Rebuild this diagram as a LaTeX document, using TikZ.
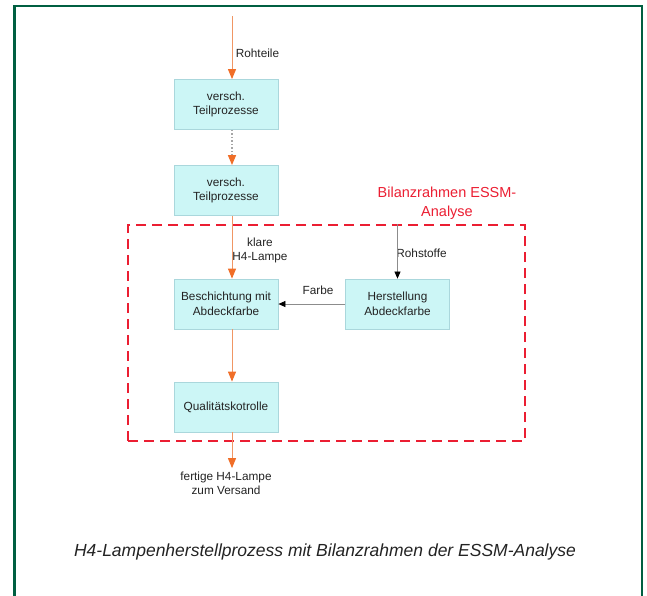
\documentclass[tikz,border=0pt]{standalone}
\usepackage{fontspec}
\setmainfont{Liberation Sans}
\usetikzlibrary{arrows.meta}

\definecolor{frameGreen}{RGB}{0,95,65}
\definecolor{boxFill}{RGB}{204,246,246}
\definecolor{boxLine}{RGB}{170,215,220}
\definecolor{flowLine}{RGB}{240,150,100}
\definecolor{flowTip}{RGB}{240,110,40}
\definecolor{bilanzRed}{RGB}{235,30,50}
\definecolor{textGray}{RGB}{35,35,35}

\tikzset{
  process/.style={draw=boxLine, fill=boxFill, line width=0.8pt, minimum width=104pt,
    minimum height=50pt, inner sep=0pt, align=center, text=textGray,
    font=\fontsize{11.8}{14.5}\selectfont},
  flow/.style={draw=flowLine, line width=1pt,
    -{Triangle[width=8pt,length=10pt,fill=flowTip,color=flowTip]}},
  supply/.style={draw=black!45, line width=0.7pt,
    -{Triangle[width=6pt,length=7pt,fill=black,color=black]}},
  lbl/.style={text=textGray, align=center, font=\fontsize{11.8}{14}\selectfont},
  bilanz/.style={draw=bilanzRed, line width=2.5pt, dash pattern=on 10pt off 6pt}
}

\begin{document}
\begin{tikzpicture}[x=1pt, y=-1pt, node distance=86pt]
  \useasboundingbox (0,0) rectangle (647,595);
  \draw[frameGreen, line width=2.5pt] (14.5,6) rectangle (642,610);

  \node (b1) [process] at (226,104.5) {versch.\\Teilprozesse};
  \node (b2) [process, below of=b1] {versch.\\Teilprozesse};
  \node (b3) [process, below of=b2, yshift=-27.5pt] {Beschichtung mit\\Abdeckfarbe};
  \node (b4) [process, right of=b3, xshift=85.5pt] {Herstellung\\Abdeckfarbe};
  \node (b5) [process, below of=b3, yshift=-17pt] {Qualitätskotrolle};

  \node (frame) [bilanz, minimum width=397pt, minimum height=216pt] at (326.5,333) {};
  \node (frametitle) [text=bilanzRed, align=center, font=\fontsize{14.5}{19}\selectfont]
    at (447,203) {Bilanzrahmen ESSM-\\Analyse};

  \coordinate (in) at (232,16);
  \node (out) [lbl] at (226,483) {fertige H4-Lampe\\zum Versand};
  \node (klar) [lbl] at (260,250) {klare\\H4-Lampe};
  \node (farbe) [lbl] at (318,290) {Farbe};
  \node (roh) [lbl] at (421.5,253) {Rohstoffe};

  % Hauptfluss
  \draw[flow] (in) -- node[lbl, pos=0.59, right] {Rohteile} ([xshift=6pt]b1.north);
  \draw[flow, draw=black!35, line width=1.5pt, dash pattern=on 1.5pt off 2pt]
    ([xshift=6pt]b1.south) -- ([xshift=6pt]b2.north);
  \draw[flow] ([xshift=6pt]b2.south) -- ([xshift=6pt]b3.north);
  \draw[flow] ([xshift=6pt]b3.south) -- ([xshift=6pt]b5.north);
  \draw[flow] ([xshift=6pt]b5.south) -- ([xshift=6pt]out.north);

  % Zulieferung
  \draw[supply] (frame.north -| b4.north) -- (b4.north);
  \draw[supply] (b4.west) -- (b3.east);

  \node (caption) [text=textGray, font=\fontsize{17.5}{20}\selectfont\itshape] at (325,552)
    {H4-Lampenherstellprozess mit Bilanzrahmen der ESSM-Analyse};
\end{tikzpicture}
\end{document}
